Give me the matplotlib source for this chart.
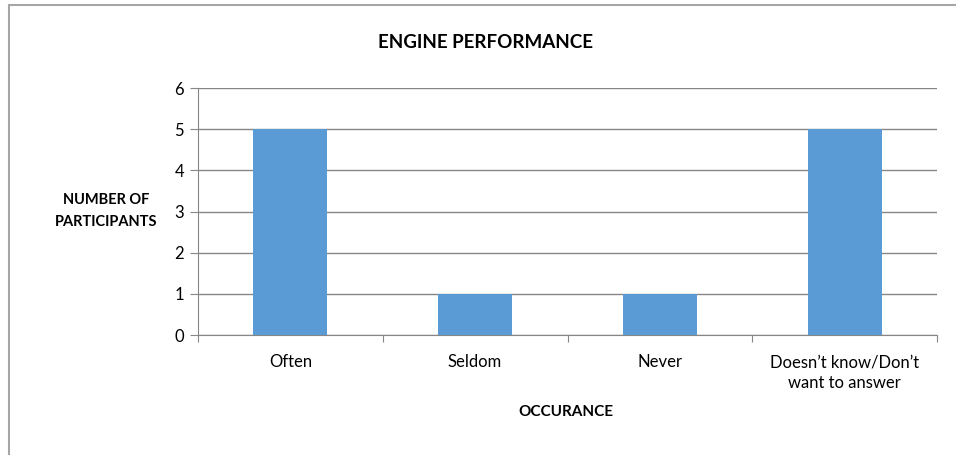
import matplotlib
matplotlib.use('Agg')
import matplotlib.pyplot as plt
from matplotlib.patches import Rectangle

plt.rcParams['font.family'] = ['Lato', 'DejaVu Sans']

categories = ['Often', 'Seldom', 'Never', 'Doesn\u2019t know/Don\u2019t\nwant to answer']
participants = [5, 1, 1, 5]
y_ticks = [0, 1, 2, 3, 4, 5, 6]

W, H = 956, 455
fig = plt.figure(figsize=(W / 100, H / 100), dpi=100)

# outer chart border (top/left visible, rest runs off the image)
fig.patches.append(Rectangle((9 / W, -0.05), 1.2, 1 - 5 / H + 0.05, transform=fig.transFigure,
                             fill=False, edgecolor='#a6a6a6', linewidth=1.5))

left, right, top, bottom = 198, 937, 88, 335
ax = fig.add_axes([left / W, 1 - bottom / H, (right - left) / W, (bottom - top) / H])

x = range(len(categories))
ax.bar(x, participants, width=0.40, color='#5b9bd5', zorder=3)

ax.set_xlim(-0.5, len(categories) - 0.5)
ax.set_ylim(0, 6)
ax.set_yticks(y_ticks)
ax.set_yticklabels([str(t) for t in y_ticks], fontsize=12)
ax.yaxis.grid(True, color='#868686', linewidth=1)
ax.set_axisbelow(True)

ax.set_xticks([i + 0.5 for i in range(-1, len(categories))])
ax.set_xticklabels([])
ax.set_xticks(list(x), minor=True)
ax.set_xticklabels(categories, minor=True, fontsize=12, linespacing=1.35)
ax.tick_params(axis='x', which='minor', length=0, pad=14)
ax.tick_params(axis='x', which='major', length=5, color='#868686', direction='out')
ax.tick_params(axis='y', length=6, color='#868686', pad=4)

for s in ['top', 'right']:
    ax.spines[s].set_visible(False)
ax.spines['left'].set_color('#868686')
ax.spines['bottom'].set_color('#868686')

fig.text(485 / W, 1 - 42 / H, 'ENGINE PERFORMANCE', ha='center', va='center',
         fontsize=13.5, fontweight='bold')
fig.text(106 / W, 1 - 211 / H, 'NUMBER OF\nPARTICIPANTS', ha='center', va='center',
         fontsize=10.5, fontweight='bold', linespacing=1.7)
fig.text(566 / W, 1 - 412 / H, 'OCCURANCE', ha='center', va='center',
         fontsize=11, fontweight='bold')

fig.savefig('out.png', dpi=100)
